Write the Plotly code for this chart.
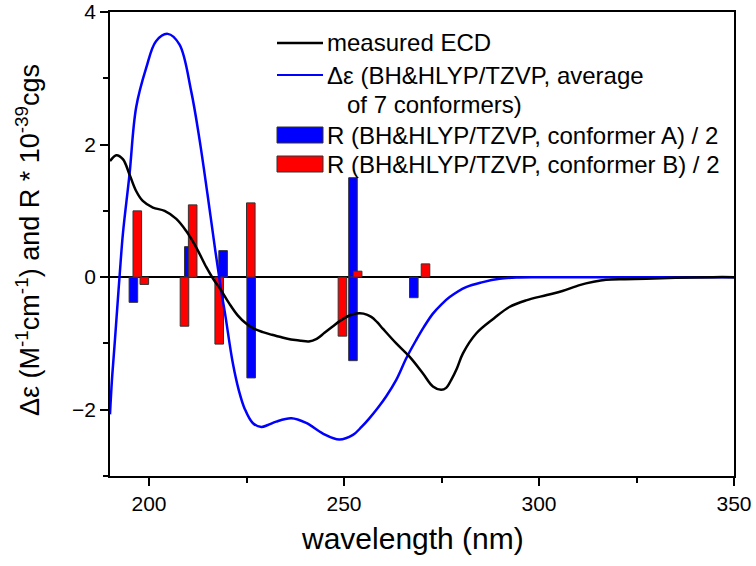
import plotly.graph_objects as go

# ---- data ----
measured_nm = [190, 191.6, 193.3, 195.0, 196.7, 198.4, 201.0, 204.0, 207.0, 209.5, 212.1, 214.7, 216.4,
               218.5, 220.6, 222.8, 224.9, 227.0, 229.2, 231.5, 233.5, 235.5, 237.5, 239.0, 241.0, 243.0,
               245.0, 247.0, 249.0, 251.0, 253.0, 255.0, 257.0, 258.5, 260.0, 263.4, 266.8,
               270.2, 272.8, 274.9, 276.2, 277.5, 279.0, 280.5, 283.9, 288.5, 292.4, 296.7, 302.0, 306.0,
               310.4, 314.0, 317.2, 322.0, 327.5, 335.0, 344.6, 350.0]
measured_de = [1.75, 1.84, 1.78, 1.55, 1.30, 1.15, 1.05, 1.00, 0.88, 0.70, 0.45, 0.15, -0.02,
               -0.20, -0.40, -0.58, -0.70, -0.78, -0.83, -0.87, -0.90, -0.93, -0.95, -0.96, -0.97, -0.93,
               -0.84, -0.75, -0.66, -0.59, -0.55, -0.55, -0.60, -0.68, -0.78, -1.00, -1.20,
               -1.45, -1.65, -1.70, -1.67, -1.55, -1.37, -1.15, -0.85, -0.62, -0.45, -0.35, -0.27, -0.21,
               -0.12, -0.07, -0.04, -0.03, -0.025, -0.01, 0.0, 0.0]

calc_nm = [190, 190.5, 191.2, 192.0, 192.5, 193.3, 195.0, 196.7, 199.3, 201.8, 204.8, 207.8, 210.8,
           213.0, 215.0, 217.0, 218.5, 219.5, 221.5, 223.0, 224.5, 226.6, 228.8, 230.5, 232.6, 236.5,
           240.3, 244.6, 248.8, 252.3, 254.5, 256.5, 258.7, 260.8, 263.4, 266.0, 268.5, 270.5, 272.8,
           275.0, 277.1, 281.3, 285.6, 289.9, 294.2, 300.0, 350.0]
calc_de = [-2.07, -1.55, -1.0, -0.35, 0.05, 0.65, 1.55, 2.56, 3.16, 3.56, 3.67, 3.51, 2.81,
           2.06, 1.25, 0.40, -0.20, -0.55, -1.30, -1.70, -1.98, -2.20, -2.26, -2.23, -2.18, -2.13,
           -2.20, -2.36, -2.45, -2.38, -2.26, -2.13, -1.97, -1.80, -1.55, -1.22, -0.95, -0.75, -0.55,
           -0.41, -0.30, -0.15, -0.075, -0.025, -0.005, 0.0, 0.0]

confA_nm = [196.0, 210.2, 219.0, 226.2, 252.3, 252.3, 267.9]
confA_R = [-0.38, 0.46, 0.40, -1.52, 1.50, -1.26, -0.31]

confB_nm = [197.0, 198.8, 209.1, 211.2, 218.0, 226.1, 249.6, 253.5, 270.9]
confB_R = [1.00, -0.11, -0.74, 1.09, -1.01, 1.12, -0.89, 0.09, 0.20]

legend_labels = ["measured ECD", "\u0394\u03b5 (BH&HLYP/TZVP, average", "of 7 conformers)",
                 "R (BH&HLYP/TZVP, conformer A) / 2", "R (BH&HLYP/TZVP, conformer B) / 2"]

x_ticks = [200, 250, 300, 350]
y_ticks = [-2, 0, 2, 4]

FONT = "Liberation Sans, Arial, sans-serif"
BLUE = "#0000ff"
RED = "#ff0000"

fig = go.Figure()
fig.add_trace(go.Scatter(x=calc_nm, y=calc_de, mode="lines", line=dict(color=BLUE, width=2.5, shape="spline"),
                         name=legend_labels[1], showlegend=False))
fig.add_trace(go.Scatter(x=measured_nm, y=measured_de, mode="lines", line=dict(color="black", width=2.5, shape="spline"),
                         name=legend_labels[0], showlegend=False))
fig.add_trace(go.Bar(x=confA_nm, y=confA_R, width=2.2, marker=dict(color=BLUE, line=dict(color="#333333", width=1)),
                     name=legend_labels[3], showlegend=False))
fig.add_trace(go.Bar(x=confB_nm, y=confB_R, width=2.2, marker=dict(color=RED, line=dict(color="#333333", width=1)),
                     name=legend_labels[4], showlegend=False))

# manual legend (paper coords; pixels -> plot-area fraction)
def px2paper(x, y):
    return (x - 110) / 624.0, (476 - y) / 464.0

shapes = []
annotations = []
LEG = 24
rows = [(43, "line", "black", 0), (75, "line", BLUE, 1), (135, "bar", BLUE, 3), (164, "bar", RED, 4)]
for yy, kind, col, idx in rows:
    x0, y0 = px2paper(277, yy)
    x1, _ = px2paper(323, yy)
    if kind == "line":
        shapes.append(dict(type="line", xref="paper", yref="paper", x0=x0, x1=x1, y0=y0, y1=y0,
                           line=dict(color=col, width=2.5 if col == "black" else 2)))
    else:
        _, ya = px2paper(0, yy - 8)
        _, yb = px2paper(0, yy + 8)
        shapes.append(dict(type="rect", xref="paper", yref="paper", x0=x0, x1=x1, y0=yb, y1=ya,
                           fillcolor=col, line=dict(color="#333333", width=1)))
    tx, ty = px2paper(325, yy)
    annotations.append(dict(xref="paper", yref="paper", x=tx, y=ty, xanchor="left", yanchor="middle",
                            text=legend_labels[idx], showarrow=False, font=dict(family=FONT, size=LEG, color="black")))
tx, ty = px2paper(345, 104)
annotations.append(dict(xref="paper", yref="paper", x=tx, y=ty, xanchor="left", yanchor="middle",
                        text=legend_labels[2], showarrow=False, font=dict(family=FONT, size=LEG, color="black")))

# y title
annotations.append(dict(xref="paper", yref="paper", x=(28 - 110) / 624.0, y=(476 - 240) / 464.0,
                        xanchor="center", yanchor="middle", textangle=-90, showarrow=False,
                        text="\u0394\u03b5 (M<sup>-1</sup>cm<sup>-1</sup>) and R * 10<sup>-39</sup>cgs",
                        font=dict(family=FONT, size=27, color="black")))
# x title
annotations.append(dict(xref="paper", yref="paper", x=(412 - 110) / 624.0, y=(476 - 538) / 464.0,
                        xanchor="center", yanchor="middle", showarrow=False,
                        text="wavelength (nm)", font=dict(family=FONT, size=30, color="black")))

fig.update_layout(
    width=756, height=566,
    margin=dict(l=110, r=22, t=12, b=90),
    paper_bgcolor="white", plot_bgcolor="white",
    barmode="overlay",
    showlegend=False,
    shapes=shapes,
    annotations=annotations,
    font=dict(family=FONT, color="black"),
)
fig.update_xaxes(range=[190, 350], tickvals=x_ticks, ticks="outside", ticklen=8, tickwidth=1.5,
                 tickcolor="black", showline=True, linecolor="black", linewidth=1.5, mirror=True,
                 showgrid=False, zeroline=False, automargin=False, ticklabeloverflow="allow",
                 tickfont=dict(family=FONT, size=21, color="black"),
                 minor=dict(tickvals=[225, 275, 325], ticks="outside", ticklen=5, tickwidth=1.5, tickcolor="black"))
fig.update_yaxes(range=[-3, 4], tickvals=y_ticks, ticks="outside", ticklen=8, tickwidth=1.5,
                 tickcolor="black", showline=True, linecolor="black", linewidth=1.5, mirror=True,
                 showgrid=False, zeroline=True, zerolinecolor="black", zerolinewidth=1.5, automargin=False,
                 ticklabeloverflow="allow",
                 tickfont=dict(family=FONT, size=21, color="black"),
                 minor=dict(tickvals=[-3, -1, 1, 3], ticks="outside", ticklen=5, tickwidth=1.5, tickcolor="black"))

# remove the default 8px page margin so the figure sits at the window corner
fig.write_html("out.html", config={"displayModeBar": False},
               post_script="document.body.style.margin='0';")
